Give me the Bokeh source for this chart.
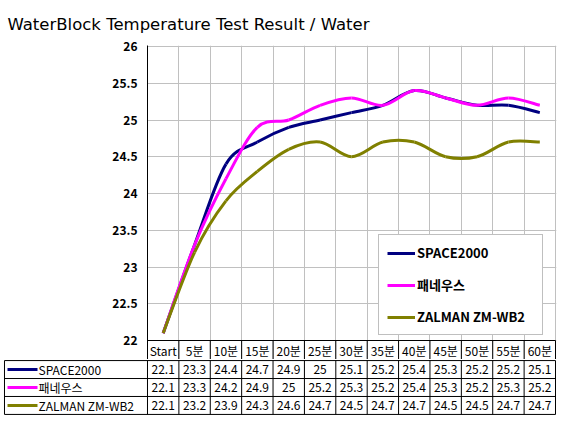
from bokeh.plotting import figure
from bokeh.models import (Range1d, FixedTicker, Legend, LegendItem, ColumnDataSource)
from bokeh.core.properties import value
from bokeh.embed import file_html
from bokeh.resources import INLINE

# ---------------- data ----------------
categories = ["Start", "5분", "10분", "15분", "20분", "25분", "30분",
              "35분", "40분", "45분", "50분", "55분", "60분"]
series_names = ["SPACE2000", "패네우스", "ZALMAN ZM-WB2"]
space2000 = [22.1, 23.3, 24.4, 24.7, 24.9, 25, 25.1, 25.2, 25.4, 25.3, 25.2, 25.2, 25.1]
paneus = [22.1, 23.3, 24.2, 24.9, 25, 25.2, 25.3, 25.2, 25.4, 25.3, 25.2, 25.3, 25.2]
zalman = [22.1, 23.2, 23.9, 24.3, 24.6, 24.7, 24.5, 24.7, 24.7, 24.5, 24.5, 24.7, 24.7]
y_ticks = [22, 22.5, 23, 23.5, 24, 24.5, 25, 25.5, 26]
title_text = "WaterBlock Temperature Test Result / Water"

series_values = [space2000, paneus, zalman]
colors = ["#000080", "#FF00FF", "#808000"]

FONT = "Noto Sans CJK KR"
GRID = "#c0c0c0"

W = 561
PX_X = 31.385          # pixels per category unit
PX_Y = 73.5            # pixels per degree
HDR = 19               # header row height (px)
FRAME_L = 147
n = len(categories)
xs = list(range(n))

# ---------------- chart figure ----------------
y0 = y_ticks[0] - HDR / PX_Y
p = figure(width=W, height=359, output_backend="svg", toolbar_location=None,
           x_range=Range1d(-0.5, n - 0.5 + 1 / PX_X),
           y_range=Range1d(y0, y_ticks[-1] + 1 / PX_Y),
           min_border_left=FRAME_L, min_border_right=5, min_border_top=45,
           min_border_bottom=0, x_axis_location=None)
p.outline_line_color = None
p.background_fill_color = "white"
p.border_fill_color = "white"

p.title.text = title_text
p.title.text_font = "DejaVu Sans"
p.title.text_font_size = "16.5px"
p.title.text_font_style = "normal"
p.title.text_color = "black"
p.title.align = "left"
p.title.offset = -(FRAME_L - 7)
p.title.standoff = 24

yax = p.yaxis[0]
yax.ticker = FixedTicker(ticks=y_ticks)
yax.major_tick_out = 0
yax.major_tick_in = 0
yax.minor_tick_out = 0
yax.minor_tick_in = 0
yax.axis_line_color = "black"
yax.major_label_standoff = 10
yax.major_label_text_font = FONT
yax.major_label_text_font_size = "12px"
yax.major_label_text_font_style = "bold"
yax.major_label_text_color = "black"

p.ygrid.ticker = FixedTicker(ticks=y_ticks)
p.ygrid.grid_line_color = GRID
p.xgrid.ticker = FixedTicker(ticks=[i + 0.5 for i in range(n)])
p.xgrid.grid_line_color = GRID

# header row (category labels) borders
bx = [i - 0.5 for i in range(n + 1)]
p.segment(x0=bx, y0=[y0] * len(bx), x1=bx, y1=[y_ticks[0]] * len(bx),
          line_color="black", line_width=1)
p.segment(x0=[-0.5], y0=[y_ticks[0]], x1=[n - 0.5], y1=[y_ticks[0]],
          line_color="black", line_width=1)
p.text(x=xs, y=[y_ticks[0] - HDR / 2 / PX_Y] * n, text=categories,
       text_align="center", text_baseline="middle",
       text_font=value(FONT), text_font_size="12px", text_color="black")


def bezier_parts(ys):
    x0s, y0s, x1s, y1s, cx0, cy0, cx1, cy1 = [], [], [], [], [], [], [], []
    m = len(ys)
    for i in range(m - 1):
        ip, inn = max(i - 1, 0), min(i + 2, m - 1)
        x0s.append(i); y0s.append(ys[i]); x1s.append(i + 1); y1s.append(ys[i + 1])
        cx0.append(i + (i + 1 - ip) / 6); cy0.append(ys[i] + (ys[i + 1] - ys[ip]) / 6)
        cx1.append(i + 1 - (inn - i) / 6); cy1.append(ys[i + 1] - (ys[inn] - ys[i]) / 6)
    return dict(x0=x0s, y0=y0s, x1=x1s, y1=y1s, cx0=cx0, cy0=cy0, cx1=cx1, cy1=cy1)


items = []
for name, vals, col in zip(series_names, series_values, colors):
    src = ColumnDataSource(bezier_parts(vals))
    r = p.bezier(x0="x0", y0="y0", x1="x1", y1="y1", cx0="cx0", cy0="cy0",
                 cx1="cx1", cy1="cy1", source=src, line_color=col, line_width=3)
    items.append(LegendItem(label=name, renderers=[r]))

legend = Legend(items=items, location=(231, 24), orientation="vertical")
legend.border_line_color = "#808080"
legend.border_line_width = 1
legend.background_fill_color = "white"
legend.background_fill_alpha = 1
legend.padding = 8
legend.margin = 0
legend.spacing = 13
legend.glyph_width = 28
legend.glyph_height = 14
legend.label_height = 14
legend.label_width = 117
legend.label_standoff = 2
legend.label_text_font = FONT
legend.label_text_font_size = "13px"
legend.label_text_font_style = "bold"
legend.label_text_color = "black"
p.add_layout(legend)

# ---------------- data table figure ----------------
left_x = -0.5 - (FRAME_L - 4) / PX_X
t = figure(width=W, height=57, output_backend="svg", toolbar_location=None,
           x_range=Range1d(-0.5 - FRAME_L / PX_X, n - 0.5 + 1 / PX_X),
           y_range=Range1d(-0.06, 3.06),
           min_border_left=0, min_border_right=5, min_border_top=0,
           min_border_bottom=1, x_axis_location=None, y_axis_location=None)
t.outline_line_color = None
t.xgrid.visible = False
t.ygrid.visible = False
t.border_fill_color = "white"

nr = len(series_names)
# horizontal borders
t.segment(x0=[left_x] * (nr + 1), y0=list(range(nr + 1)),
          x1=[n - 0.5] * (nr + 1), y1=list(range(nr + 1)),
          line_color="black", line_width=1)
# vertical borders
vx = [left_x] + bx
t.segment(x0=vx, y0=[0] * len(vx), x1=vx, y1=[nr] * len(vx),
          line_color="black", line_width=1)

for k, (name, vals, col) in enumerate(zip(series_names, series_values, colors)):
    yc = nr - k - 0.5
    t.segment(x0=[left_x + 3 / PX_X], y0=[yc], x1=[left_x + 33 / PX_X], y1=[yc],
              line_color=col, line_width=3)
    t.text(x=[left_x + 34 / PX_X], y=[yc], text=[name], text_align="left",
           text_baseline="middle", text_font=value(FONT), text_font_size="12px",
           text_color="black")
    t.text(x=xs, y=[yc] * n, text=[f"{v:g}" for v in vals], text_align="center",
           text_baseline="middle", text_font=value(FONT), text_font_size="12px",
           text_color="black")

open("out.html", "w").write(file_html([p, t], INLINE))
